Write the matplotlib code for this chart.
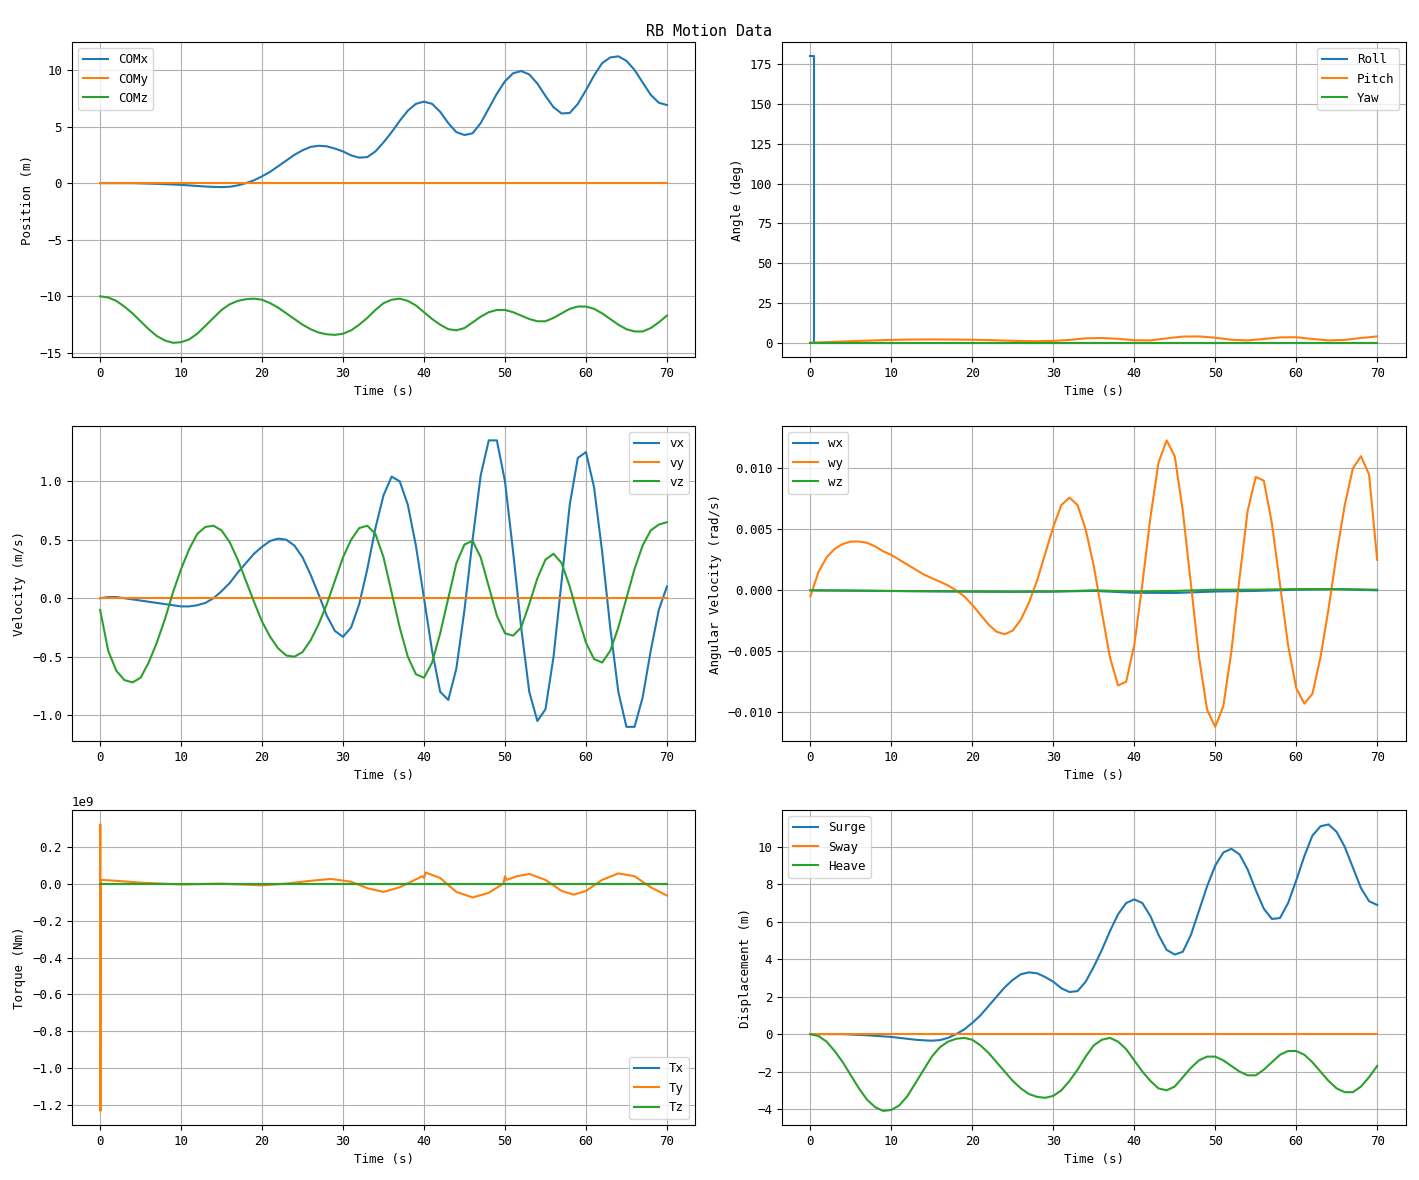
import numpy as np
import matplotlib.pyplot as plt

plt.rcParams['font.family'] = ['DejaVu Sans Mono']
plt.rcParams['font.size'] = 9

t = np.arange(0, 71)

com_x = [0, 0, 0, 0, 0, -0.02, -0.04, -0.06, -0.09, -0.12, -0.15,
         -0.2, -0.25, -0.3, -0.33, -0.35, -0.32, -0.2, 0, 0.25, 0.6,
         1.0, 1.5, 2.0, 2.5, 2.9, 3.2, 3.3, 3.25, 3.05, 2.8,
         2.45, 2.25, 2.3, 2.8, 3.6, 4.5, 5.5, 6.4, 7.0, 7.2,
         7.0, 6.3, 5.3, 4.5, 4.25, 4.4, 5.3, 6.6, 7.9, 9.0,
         9.7, 9.9, 9.6, 8.8, 7.7, 6.7, 6.15, 6.2, 7.0, 8.2,
         9.5, 10.6, 11.1, 11.2, 10.8, 10.0, 8.9, 7.8, 7.1, 6.9]
com_y = [0.0] * 71
com_z = [-10, -10.1, -10.4, -10.9, -11.5, -12.2, -12.9, -13.5, -13.9, -14.1, -14.05,
         -13.8, -13.3, -12.6, -11.9, -11.2, -10.7, -10.4, -10.25, -10.2, -10.3,
         -10.6, -11.0, -11.5, -12.0, -12.5, -12.9, -13.2, -13.35, -13.4, -13.3,
         -13.0, -12.5, -11.9, -11.2, -10.6, -10.3, -10.2, -10.4, -10.8, -11.4,
         -12.0, -12.5, -12.9, -13.0, -12.8, -12.3, -11.8, -11.4, -11.2, -11.2,
         -11.4, -11.7, -12.0, -12.2, -12.2, -11.9, -11.5, -11.1, -10.9, -10.9,
         -11.1, -11.5, -12.0, -12.5, -12.9, -13.1, -13.1, -12.8, -12.3, -11.7]

# angles (deg)
t_roll = [0, 0.5, 0.5, 70]
roll = [180, 180, 0, 0]
t_ang = np.arange(0, 71, 2)
pitch = [0, 0.4, 0.8, 1.2, 1.5, 1.8, 2.0, 2.1, 2.1, 2.0, 1.9, 1.7, 1.4, 1.1, 1.0, 1.2,
         1.8, 2.8, 3.0, 2.5, 1.6, 1.5, 2.8, 3.9, 4.0, 3.2, 1.9, 1.5, 2.4, 3.4, 3.5,
         2.4, 1.5, 1.8, 3.0, 4.0]
yaw = [0.0] * len(t_ang)

# velocities (m/s)
vx = [0, 0.01, 0.01, 0.0, -0.01, -0.02, -0.03, -0.04, -0.05, -0.06, -0.07,
      -0.07, -0.06, -0.04, 0.0, 0.06, 0.13, 0.22, 0.3, 0.38, 0.44,
      0.49, 0.51, 0.5, 0.45, 0.35, 0.2, 0.03, -0.15, -0.28, -0.33,
      -0.25, -0.05, 0.25, 0.6, 0.88, 1.04, 1.0, 0.8, 0.45, 0.0,
      -0.45, -0.8, -0.87, -0.6, -0.1, 0.5, 1.05, 1.35, 1.35, 1.0,
      0.4, -0.25, -0.8, -1.05, -0.95, -0.5, 0.15, 0.8, 1.2, 1.25,
      0.95, 0.4, -0.25, -0.8, -1.1, -1.1, -0.85, -0.45, -0.1, 0.1]
vy = [0.0] * 71
vz = [-0.1, -0.45, -0.62, -0.7, -0.72, -0.68, -0.55, -0.38, -0.18, 0.05, 0.25,
      0.42, 0.55, 0.61, 0.62, 0.58, 0.48, 0.33, 0.15, -0.03, -0.2,
      -0.33, -0.43, -0.49, -0.5, -0.46, -0.36, -0.22, -0.05, 0.15, 0.35,
      0.5, 0.6, 0.62, 0.55, 0.35, 0.05, -0.25, -0.5, -0.65, -0.68,
      -0.55, -0.3, 0.0, 0.3, 0.46, 0.49, 0.35, 0.1, -0.15, -0.3,
      -0.32, -0.25, -0.05, 0.17, 0.33, 0.38, 0.3, 0.1, -0.15, -0.38,
      -0.52, -0.55, -0.45, -0.25, 0.0, 0.25, 0.45, 0.58, 0.63, 0.65]

# angular velocities (x1e-3 rad/s)
wy_milli = [-0.5, 1.5, 2.7, 3.4, 3.8, 4.0, 4.0, 3.9, 3.6, 3.2, 2.9,
            2.5, 2.1, 1.7, 1.3, 1.0, 0.7, 0.4, 0.0, -0.5, -1.2,
            -2.0, -2.8, -3.4, -3.6, -3.3, -2.4, -1.0, 0.8, 3.0, 5.2,
            7.0, 7.6, 7.0, 5.0, 2.0, -1.8, -5.5, -7.8, -7.5, -4.5,
            0.5, 6.0, 10.5, 12.3, 11.0, 6.5, 0.5, -5.5, -9.8, -11.2,
            -9.5, -5.0, 1.0, 6.5, 9.3, 9.0, 5.5, 0.5, -4.5, -8.0,
            -9.3, -8.5, -5.5, -1.5, 3.0, 7.0, 10.0, 11.0, 9.5, 2.5]
t_w = np.arange(0, 71, 5)
wx_milli = [0, -0.03, -0.06, -0.08, -0.1, -0.12, -0.1, -0.05, -0.2, -0.22, -0.1, -0.05, 0.05, 0.1, 0.0]
wz_milli = [0, -0.02, -0.05, -0.08, -0.1, -0.12, -0.1, 0.0, -0.1, -0.05, 0.05, 0.05, 0.1, 0.1, 0.05]

# torques (x1e9 Nm)
t_tq = [0, 0.02, 0.04, 0.06, 2, 5, 10, 15, 20, 23, 26, 28.5, 31, 33, 35, 37, 39.8, 40, 40.2,
        42, 44, 46, 48, 49.8, 50, 50.2, 51.5, 53, 55, 57, 58.5, 60, 62, 64, 66, 68, 70]
ty = [0, 0.32, -1.23, 0.02, 0.015, 0.005, -0.005, 0.0, -0.01, 0.0, 0.015, 0.025, 0.01,
      -0.025, -0.045, -0.02, 0.04, 0.03, 0.06, 0.03, -0.045, -0.075, -0.05, 0.0, 0.04, 0.02,
      0.04, 0.052, 0.02, -0.04, -0.06, -0.04, 0.02, 0.055, 0.04, -0.02, -0.065]
tz = [0.0] * len(t_tq)

heave = [z + 10 for z in com_z]

fig, axes = plt.subplots(3, 2, figsize=(14.19, 11.8), dpi=100)
fig.suptitle('RB Motion Data')

ax = axes[0, 0]
ax.plot(t, com_x, label='COMx')
ax.plot(t, com_y, label='COMy')
ax.plot(t, com_z, label='COMz')
ax.set_ylabel('Position (m)')
ax.legend(loc='upper left')

ax = axes[0, 1]
ax.plot(t_roll, roll, label='Roll')
ax.plot(t_ang, pitch, label='Pitch')
ax.plot(t_ang, yaw, label='Yaw')
ax.set_ylabel('Angle (deg)')
ax.legend(loc='upper right')

ax = axes[1, 0]
ax.plot(t, vx, label='vx')
ax.plot(t, vy, label='vy')
ax.plot(t, vz, label='vz')
ax.set_ylabel('Velocity (m/s)')
ax.legend(loc='upper right')

ax = axes[1, 1]
ax.plot(t_w, np.array(wx_milli) / 1000, label='wx')
ax.plot(t, np.array(wy_milli) / 1000, label='wy')
ax.plot(t_w, np.array(wz_milli) / 1000, label='wz')
ax.set_ylabel('Angular Velocity (rad/s)')
ax.legend(loc='upper left')

ax = axes[2, 0]
ax.plot(t_tq, np.zeros(len(t_tq)), label='Tx')
ax.plot(t_tq, np.array(ty) * 1e9, label='Ty')
ax.plot(t_tq, np.array(tz) * 1e9, label='Tz')
ax.set_ylabel('Torque (Nm)')
ax.legend(loc='lower right')

ax = axes[2, 1]
ax.plot(t, com_x, label='Surge')
ax.plot(t, com_y, label='Sway')
ax.plot(t, heave, label='Heave')
ax.set_ylabel('Displacement (m)')
ax.legend(loc='upper left')

for ax in axes.flat:
    ax.set_xlabel('Time (s)')
    ax.grid(True)

plt.tight_layout()
plt.savefig('out.png')
